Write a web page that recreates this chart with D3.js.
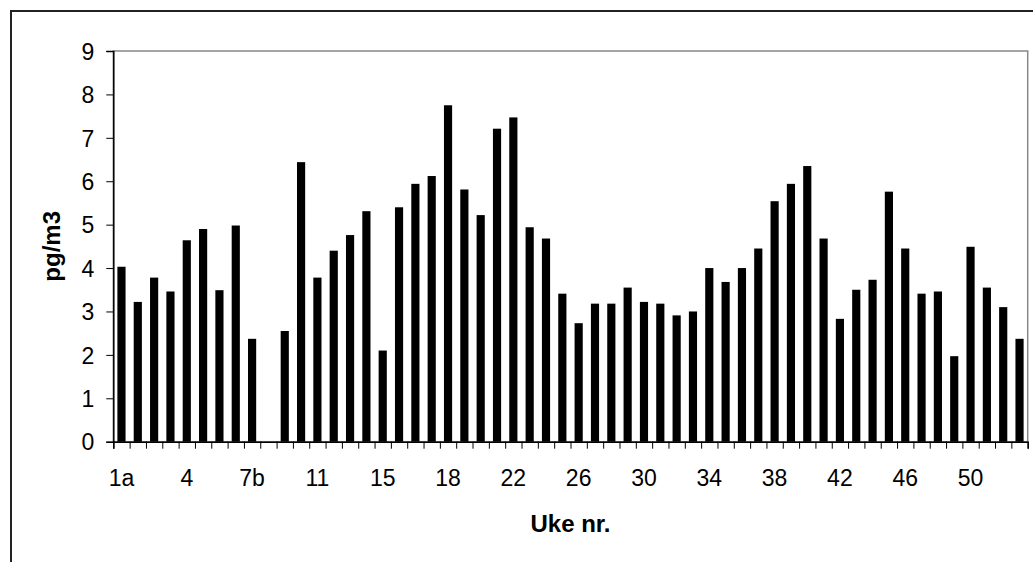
<!DOCTYPE html>
<html>
<head>
	<meta charset="UTF-8" />
	<title>pg/m3 per uke</title>
	<script src="https://d3js.org/d3.v7.min.js"></script>
	<style>
		body { margin: 0; background: #fff; }
		text { font-family: Arial, "Liberation Sans", sans-serif; }
	</style>
</head>
<body>
	<svg id="chart" width="1033" height="562"></svg>

	<script type="text/javascript">
	// week categories (some weeks split in a/b)
	weeks = ["1a","1b","2","3","4","5","6","7a","7b","8","9","10","11","12","13","14","15","16a","16b","17",
		"18","19","20","21","22","23","24","25","26","27","28","29","30","31","32","33","34","35","36","37",
		"38","39","40","41","42","43","44","45","46","47","48","49","50","51","52","53"]
	// pg/m3, null = no sample
	values = [4.03,3.22,3.78,3.46,4.64,4.90,3.49,4.98,2.37,null,2.55,6.44,3.78,4.40,4.76,5.31,2.10,5.40,5.94,6.12,
		7.75,5.81,5.22,7.21,7.47,4.94,4.68,3.41,2.73,3.18,3.18,3.55,3.22,3.18,2.91,3.00,4.00,3.68,4.00,4.45,
		5.54,5.94,6.35,4.68,2.83,3.50,3.73,5.76,4.45,3.41,3.46,1.97,4.49,3.55,3.10,2.37]
	shownLabels = ["1a","4","7b","11","15","18","22","26","30","34","38","42","46","50"]
	yTicks = [0,1,2,3,4,5,6,7,8,9]

	var svg = d3.select("#chart")
	var pLeft = 113.3, pRight = 1027.7, pTop = 51, pBottom = 441.7

	// outer chart frame
	svg.append("rect").attr("x", 11).attr("y", 11).attr("width", 1100).attr("height", 700)
		.style("fill", "none").style("stroke", "#222").style("stroke-width", 2)

	var xScale = d3.scaleBand().domain(weeks).range([pLeft, pRight]).paddingInner(0.5).paddingOuter(0.25)
	var yScale = d3.scaleLinear().domain([0, 9]).range([pBottom, pTop])

	// plot area border (gray top/right)
	svg.append("rect").attr("x", pLeft).attr("y", pTop).attr("width", pRight - pLeft).attr("height", pBottom - pTop)
		.style("fill", "none").style("stroke", "#888").style("stroke-width", 1.5)

	// bars
	svg.append("g").selectAll("rect")
		.data(weeks.map((w, i) => ({week: w, v: values[i]})).filter(d => d.v != null))
		.enter().append("rect")
		.attr("x", d => xScale(d.week))
		.attr("width", xScale.bandwidth())
		.attr("y", d => yScale(d.v))
		.attr("height", d => pBottom - yScale(d.v))
		.style("fill", "#000")

	// y axis
	var yAxis = d3.axisLeft(yScale).tickValues(yTicks).tickSize(7).tickFormat(d3.format("d"))
	var yG = svg.append("g").attr("transform", `translate(${pLeft},0)`).call(yAxis)
	yG.select(".domain").attr("stroke", "#000").attr("stroke-width", 1.5)
	yG.selectAll(".tick line").attr("stroke", "#000")
	yG.selectAll(".tick text").attr("x", -19).attr("dy", "0.36em")
		.style("font-size", "23px").style("font-family", "Arial, 'Liberation Sans', sans-serif").style("fill", "#000")

	// x axis: tick marks between categories, labels every 4th week
	var xLin = d3.scaleLinear().domain([0, weeks.length]).range([pLeft, pRight])
	var xAxis = d3.axisBottom(xLin).tickValues(d3.range(weeks.length + 1)).tickSize(7).tickFormat("")
	var xG = svg.append("g").attr("transform", `translate(0,${pBottom})`).call(xAxis)
	xG.select(".domain").attr("stroke", "#000").attr("stroke-width", 1.5)
	xG.selectAll(".tick line").attr("stroke", "#000")

	svg.append("g").selectAll("text")
		.data(shownLabels)
		.enter().append("text")
		.attr("x", d => xScale(d) + xScale.bandwidth() / 2)
		.attr("y", 486)
		.attr("text-anchor", "middle")
		.style("font-size", "23px")
		.text(d => d)

	// axis titles
	svg.append("text").attr("x", (pLeft + pRight) / 2).attr("y", 532)
		.attr("text-anchor", "middle").style("font-size", "24px").style("font-weight", "bold")
		.text("Uke nr.")
	svg.append("text").attr("transform", `translate(60,${(pTop + pBottom) / 2}) rotate(-90)`)
		.attr("text-anchor", "middle").style("font-size", "24px").style("font-weight", "bold")
		.text("pg/m3")
	</script>
</body>
</html>
